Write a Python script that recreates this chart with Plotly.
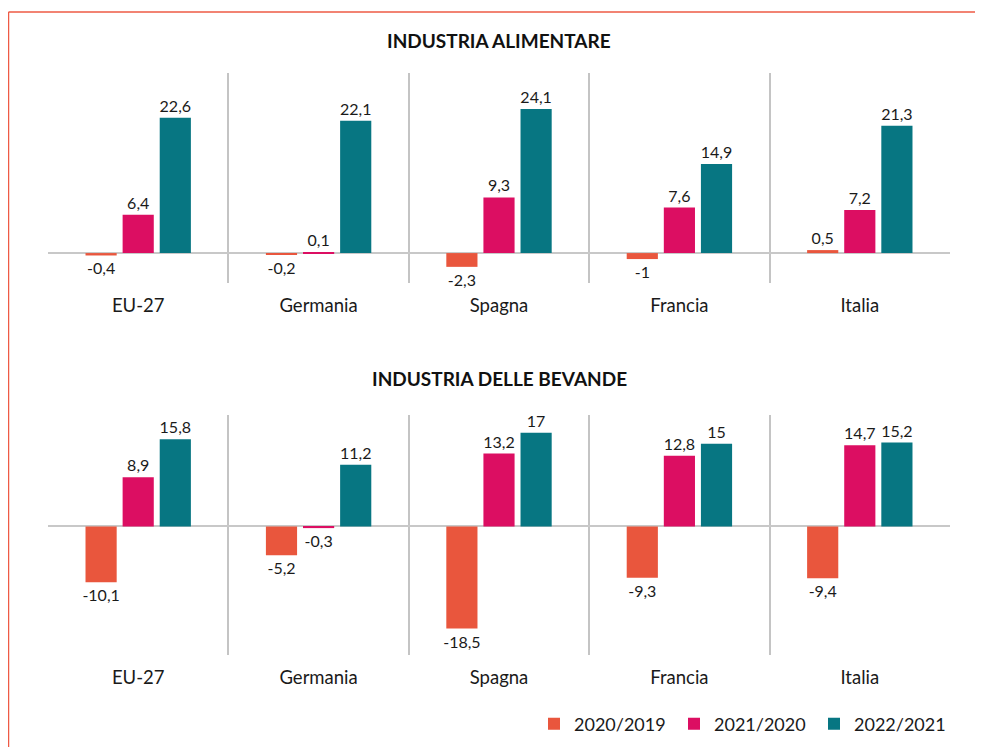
import plotly.graph_objects as go

countries = ["EU-27", "Germania", "Spagna", "Francia", "Italia"]
series_names = ["2020/2019", "2021/2020", "2022/2021"]
colors = ["#E9563D", "#DC0E62", "#077682"]

# INDUSTRIA ALIMENTARE
food_2020 = [-0.4, -0.2, -2.3, -1, 0.5]
food_2021 = [6.4, 0.1, 9.3, 7.6, 7.2]
food_2022 = [22.6, 22.1, 24.1, 14.9, 21.3]

# INDUSTRIA DELLE BEVANDE
bev_2020 = [-10.1, -5.2, -18.5, -9.3, -9.4]
bev_2021 = [8.9, -0.3, 13.2, 12.8, 14.7]
bev_2022 = [15.8, 11.2, 17, 15, 15.2]

titles = ["INDUSTRIA ALIMENTARE", "INDUSTRIA DELLE BEVANDE"]

FONT = "Lato, 'Noto Sans', sans-serif"
# page body has an 8px margin; figure fills the rest of the 983x747 window
OFF = 8
W, H = 983 - OFF, 747 - OFF


def px(x):
    return (x - OFF) / W


def py(y):
    return 1 - (y - OFF) / H


def fmt(v):
    return ("%g" % v).replace(".", ",")


fig = go.Figure()

panels = [
    ([food_2020, food_2021, food_2022], "x", "y"),
    ([bev_2020, bev_2021, bev_2022], "x2", "y2"),
]

for p, (vals, xa, ya) in enumerate(panels):
    for name, col, v in zip(series_names, colors, vals):
        fig.add_trace(go.Bar(
            x=countries, y=v, name=name,
            marker=dict(color=col, line=dict(width=0)),
            text=[fmt(t) for t in v],
            textposition="outside",
            constraintext="none",
            textfont=dict(family=FONT, size=16, color="#1a1a1a"),
            cliponaxis=False,
            xaxis=xa, yaxis=ya,
            showlegend=(p == 0),
            legendgroup=name,
        ))

xdom = [px(48), px(950)]
top_dom = [py(283), py(73)]
bot_dom = [py(655), py(415)]

xcommon = dict(
    type="category",
    domain=xdom,
    tickson="boundaries",
    showgrid=True,
    gridcolor="#C4C4C4",
    gridwidth=1.5,
    ticks="",
    showline=False,
    zeroline=False,
    tickfont=dict(family=FONT, size=18.5, color="#1a1a1a"),
    ticklabelstandoff=9,
)
ycommon = dict(
    showgrid=False,
    showticklabels=False,
    ticks="",
    zeroline=True,
    zerolinecolor="#C8C8C8",
    zerolinewidth=2,
    showline=False,
)

fig.update_layout(
    width=W, height=H,
    margin=dict(l=0, r=0, t=0, b=0),
    paper_bgcolor="white",
    plot_bgcolor="white",
    barmode="group",
    bargap=0.383,
    bargroupgap=0.16,
    font=dict(family=FONT, color="#1a1a1a"),
    xaxis=dict(xcommon, anchor="y"),
    yaxis=dict(ycommon, domain=top_dom, range=[-5, 30.1], anchor="x"),
    xaxis2=dict(xcommon, anchor="y2"),
    yaxis2=dict(ycommon, domain=bot_dom, range=[-23.3, 20.2], anchor="x2"),
    legend=dict(
        orientation="h",
        x=(526) / W, xanchor="left",
        y=py(724), yanchor="middle",
        font=dict(family=FONT, size=18, color="#1a1a1a"),
        entrywidth=95, entrywidthmode="pixels",
        bgcolor="rgba(0,0,0,0)",
        traceorder="normal",
    ),
    showlegend=True,
    annotations=[
        dict(text="<b>%s</b>" % titles[0], x=px(499), y=py(40),
             xref="paper", yref="paper", showarrow=False,
             xanchor="center", yanchor="middle",
             font=dict(family=FONT, size=19, color="#111")),
        dict(text="<b>%s</b>" % titles[1], x=px(499), y=py(378),
             xref="paper", yref="paper", showarrow=False,
             xanchor="center", yanchor="middle",
             font=dict(family=FONT, size=19, color="#111")),
    ],
    shapes=[
        dict(type="line", xref="paper", yref="paper",
             x0=px(8.5), x1=px(8.5), y0=0, y1=py(12),
             line=dict(color="#EE5A45", width=1.5)),
        dict(type="line", xref="paper", yref="paper",
             x0=px(8.5), x1=1, y0=py(12), y1=py(12),
             line=dict(color="#EE5A45", width=1.5)),
    ],
)

fig.write_html("out.html")
